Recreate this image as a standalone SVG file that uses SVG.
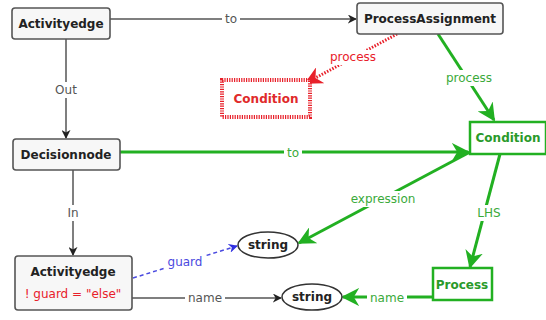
<svg xmlns="http://www.w3.org/2000/svg" width="546" height="320" viewBox="0 0 546 320">
  <style>
    .node { fill: #f7f7f7; stroke: #555; stroke-width: 1.6; }
    .nlabel { font-family: "DejaVu Sans", Verdana, sans-serif; font-weight: bold; font-size: 12px; fill: #222; text-anchor: middle; dominant-baseline: central; }
    .elabel { font-family: "DejaVu Sans", Verdana, sans-serif; font-size: 12px; fill: #555; text-anchor: middle; dominant-baseline: central; }
    .lbg { fill: #fff; }
    .gray { stroke: #555; stroke-width: 1.5; fill: none; }
    .green { stroke: #22b022; stroke-width: 3; fill: none; }
    .greenbox { fill: #fff; stroke: #22b022; stroke-width: 2.5; }
    .red { stroke: #e8202a; stroke-width: 3; fill: none; stroke-dasharray: 1.5 1.5; }
    .blue { stroke: #4a4ae0; stroke-width: 1.5; fill: none; stroke-dasharray: 4 3; }
  </style>
  <defs>
    <marker id="ahGray" viewBox="0 0 10 10" refX="9" refY="5" markerWidth="9" markerHeight="9" markerUnits="userSpaceOnUse" orient="auto">
      <path d="M0,0 L10,5 L0,10 L3,5 z" fill="#222"/>
    </marker>
    <marker id="ahBlue" viewBox="0 0 10 10" refX="9" refY="5" markerWidth="9" markerHeight="9" markerUnits="userSpaceOnUse" orient="auto">
      <path d="M0,0 L10,5 L0,10 L3,5 z" fill="#3030e0"/>
    </marker>
    <marker id="ahGreen" viewBox="0 0 10 10" refX="9" refY="5" markerWidth="18" markerHeight="18" markerUnits="userSpaceOnUse" orient="auto">
      <path d="M0,0 L10,5 L0,10 L3,5 z" fill="#22b022"/>
    </marker>
    <marker id="ahRed" viewBox="0 0 10 10" refX="9" refY="5" markerWidth="18" markerHeight="18" markerUnits="userSpaceOnUse" orient="auto">
      <path d="M0,0 L10,5 L0,10 L3,5 z" fill="#e8202a"/>
    </marker>
  </defs>

  <!-- connectors -->
  <g id="connectors">
    <!-- Activityedge -to-> ProcessAssignment -->
    <line class="gray" x1="110" y1="19" x2="356" y2="19" marker-end="url(#ahGray)"/>
    <rect class="lbg" x="222" y="12" width="18" height="14"/>
    <text class="elabel" x="231" y="19">to</text>

    <!-- Activityedge -Out-> Decisionnode -->
    <line class="gray" x1="66" y1="39" x2="66" y2="138" marker-end="url(#ahGray)"/>
    <rect class="lbg" x="52" y="82" width="28" height="16"/>
    <text class="elabel" x="66" y="90">Out</text>

    <!-- Decisionnode -In-> Activityedge -->
    <line class="gray" x1="73" y1="170" x2="73" y2="255" marker-end="url(#ahGray)"/>
    <rect class="lbg" x="64" y="205" width="18" height="16"/>
    <text class="elabel" x="73" y="213">In</text>

    <!-- ProcessAssignment -process-> Condition (red, dashed) -->
    <line class="red" x1="397" y1="34" x2="306" y2="83" marker-end="url(#ahRed)"/>
    <rect class="lbg" x="328" y="50" width="50" height="15"/>
    <text class="elabel" x="353" y="57" style="fill:#e8202a">process</text>

    <!-- ProcessAssignment -process-> Condition (green) -->
    <line class="green" x1="438" y1="34" x2="494" y2="120" marker-end="url(#ahGreen)"/>
    <rect class="lbg" x="443" y="70" width="52" height="16"/>
    <text class="elabel" x="469" y="78" style="fill:#3aaa3a">process</text>

    <!-- Decisionnode -to-> Condition (green) -->
    <line class="green" x1="120" y1="152" x2="468" y2="152" marker-end="url(#ahGreen)"/>
    <rect class="lbg" x="284" y="146" width="18" height="13"/>
    <text class="elabel" x="293" y="153" style="fill:#3aaa3a">to</text>

    <!-- Condition -expression-> string -->
    <line class="green" x1="470" y1="152" x2="299" y2="243" marker-end="url(#ahGreen)"/>
    <rect class="lbg" x="345" y="191" width="76" height="16"/>
    <text class="elabel" x="383" y="199" style="fill:#3aaa3a">expression</text>

    <!-- Condition -LHS-> Process -->
    <line class="green" x1="500" y1="154" x2="470" y2="267" marker-end="url(#ahGreen)"/>
    <rect class="lbg" x="474" y="205" width="30" height="16"/>
    <text class="elabel" x="489" y="213" style="fill:#3aaa3a">LHS</text>

    <!-- Process -name-> string (green) -->
    <line class="green" x1="433" y1="297" x2="343" y2="297" marker-end="url(#ahGreen)"/>
    <rect class="lbg" x="367" y="290" width="40" height="15"/>
    <text class="elabel" x="387" y="298" style="fill:#3aaa3a">name</text>

    <!-- Activityedge -guard-> string (blue, dashed) -->
    <line class="blue" x1="133" y1="278" x2="237" y2="246" marker-end="url(#ahBlue)"/>
    <rect class="lbg" x="164" y="254" width="42" height="15"/>
    <text class="elabel" x="185" y="262" style="fill:#4a4ae0">guard</text>

    <!-- Activityedge -name-> string -->
    <line class="gray" x1="132" y1="298" x2="281" y2="298" marker-end="url(#ahGray)"/>
    <rect class="lbg" x="185" y="291" width="40" height="15"/>
    <text class="elabel" x="205" y="298">name</text>
  </g>

  <!-- nodes -->
  <g id="activityedge-top">
    <rect class="node" x="12" y="8" width="98" height="31" rx="3"/>
    <text class="nlabel" x="61" y="24">Activityedge</text>
  </g>

  <g id="processassignment">
    <rect class="node" x="357" y="3" width="146" height="31" rx="3"/>
    <text class="nlabel" x="430" y="19">ProcessAssignment</text>
  </g>

  <g id="condition-negated">
    <rect x="222" y="80" width="88" height="37" fill="#fff" stroke="#e8202a" stroke-width="4" stroke-dasharray="1.2 1.2"/>
    <text class="nlabel" x="266" y="99" style="fill:#e02a2a">Condition</text>
  </g>

  <g id="decisionnode">
    <rect class="node" x="13" y="139" width="107" height="31" rx="3"/>
    <text class="nlabel" x="66" y="155">Decisionnode</text>
  </g>

  <g id="condition">
    <rect class="greenbox" x="470" y="122" width="76" height="32"/>
    <text class="nlabel" x="508" y="138" style="fill:#2a9a2a">Condition</text>
  </g>

  <g id="activityedge-bottom">
    <rect class="node" x="15" y="256" width="117" height="54" rx="3"/>
    <text class="nlabel" x="73" y="272">Activityedge</text>
    <text class="elabel" x="73" y="294" style="fill:#e8202a">! guard = "else"</text>
  </g>

  <g id="string-guard">
    <ellipse cx="268" cy="245" rx="30" ry="13" fill="#fff" stroke="#333" stroke-width="1.5"/>
    <text class="nlabel" x="268" y="245">string</text>
  </g>

  <g id="string-name">
    <ellipse cx="312" cy="297" rx="30" ry="13" fill="#fff" stroke="#333" stroke-width="1.5"/>
    <text class="nlabel" x="312" y="297">string</text>
  </g>

  <g id="process">
    <rect class="greenbox" x="433" y="268" width="59" height="32"/>
    <text class="nlabel" x="462" y="285" style="fill:#2a9a2a">Process</text>
  </g>
</svg>
